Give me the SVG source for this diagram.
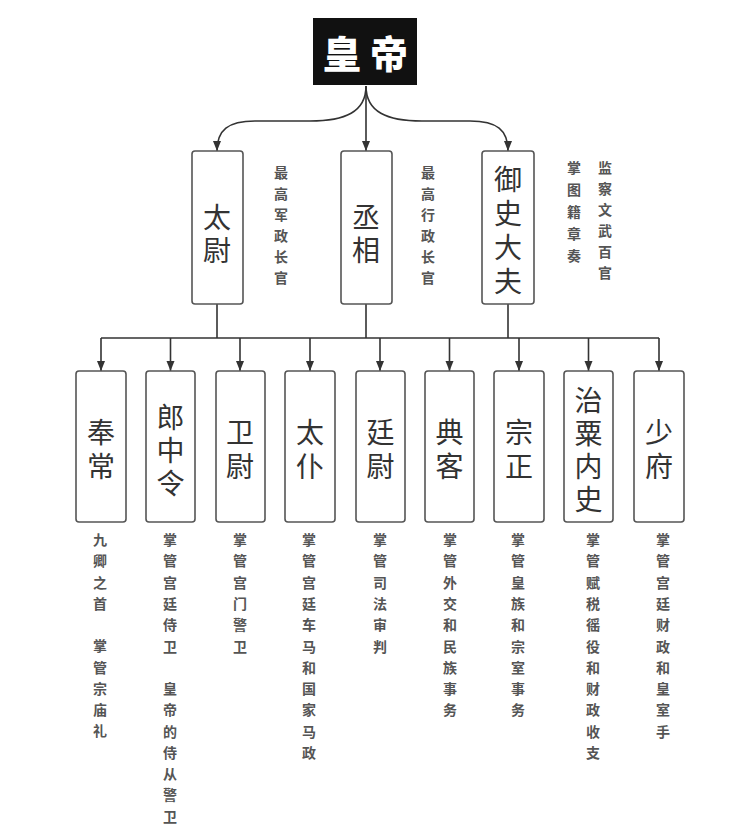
<svg xmlns="http://www.w3.org/2000/svg" width="735" height="829" viewBox="0 0 735 829">
<defs>
<marker id="ah" markerUnits="userSpaceOnUse" markerWidth="10" markerHeight="10" viewBox="0 0 10 10" refX="10" refY="5" orient="auto">
<path d="M0,1 L10,5 L0,9 Z" fill="#333"/>
</marker>
<style>
.box{fill:#fff;stroke:#555;stroke-width:1.6}
.ln{fill:none;stroke:#333;stroke-width:1.6}
.big{font-family:"Noto Sans CJK SC","Noto Sans CJK TC",sans-serif;font-size:28px;fill:#333;text-anchor:middle;writing-mode:vertical-rl}
.sm{font-family:"Noto Sans CJK SC","Noto Sans CJK TC",serif;font-size:14px;font-weight:bold;fill:#555;text-anchor:middle}
.emp{font-family:"Noto Sans CJK SC","Noto Sans CJK TC",sans-serif;font-size:38px;font-weight:900;fill:#fff;text-anchor:middle}
</style>
</defs>
<rect width="735" height="829" fill="#fff"/>

<g id="connectors">
<path class="ln" d="M366,86 L366,151" marker-end="url(#ah)"/>
<path class="ln" d="M366,86 C366,112 345,121 310,121 L255,121 C228,121 217,130 217,151" marker-end="url(#ah)"/>
<path class="ln" d="M366,86 C366,112 387,121 422,121 L470,121 C497,121 508,130 508,151" marker-end="url(#ah)"/>
<path class="ln" d="M217,304 L217,338 M366,304 L366,338 M508,304 L508,338 M101,338 L659,338"/>
<path class="ln" d="M101,338 L101,371" marker-end="url(#ah)"/>
<path class="ln" d="M170.5,338 L170.5,371" marker-end="url(#ah)"/>
<path class="ln" d="M240,338 L240,371" marker-end="url(#ah)"/>
<path class="ln" d="M310,338 L310,371" marker-end="url(#ah)"/>
<path class="ln" d="M380,338 L380,371" marker-end="url(#ah)"/>
<path class="ln" d="M449.5,338 L449.5,371" marker-end="url(#ah)"/>
<path class="ln" d="M519,338 L519,371" marker-end="url(#ah)"/>
<path class="ln" d="M588.5,338 L588.5,371" marker-end="url(#ah)"/>
<path class="ln" d="M659,338 L659,371" marker-end="url(#ah)"/>
</g>

<g id="huangdi">
<rect x="313" y="18" width="104" height="67" fill="#111"/>
<text class="emp"><tspan x="342" y="68">皇</tspan><tspan x="389" y="68">帝</tspan></text>
</g>

<g id="taiwei">
<rect class="box" x="192" y="151" width="51" height="153" rx="3"/>
<text class="big" x="217" y="236" letter-spacing="5">太尉</text>
</g>
<g id="taiwei-note">
<text class="sm"><tspan x="281" y="178">最</tspan><tspan x="281" y="199">高</tspan><tspan x="281" y="220">军</tspan><tspan x="281" y="241">政</tspan><tspan x="281" y="262">长</tspan><tspan x="281" y="283">官</tspan></text>
</g>

<g id="chengxiang">
<rect class="box" x="341" y="151" width="51" height="153" rx="3"/>
<text class="big" x="366" y="236" letter-spacing="5">丞相</text>
</g>
<g id="chengxiang-note">
<text class="sm"><tspan x="428" y="178">最</tspan><tspan x="428" y="199">高</tspan><tspan x="428" y="220">行</tspan><tspan x="428" y="241">政</tspan><tspan x="428" y="262">长</tspan><tspan x="428" y="283">官</tspan></text>
</g>

<g id="yushidafu">
<rect class="box" x="482" y="151" width="52" height="153" rx="3"/>
<text class="big" x="508" y="233" letter-spacing="6">御史大夫</text>
</g>
<g id="yushidafu-note">
<text class="sm"><tspan x="574" y="173">掌</tspan><tspan x="574" y="195">图</tspan><tspan x="574" y="217">籍</tspan><tspan x="574" y="239">章</tspan><tspan x="574" y="261">奏</tspan></text>
<text class="sm"><tspan x="605" y="173">监</tspan><tspan x="605" y="194">察</tspan><tspan x="605" y="215">文</tspan><tspan x="605" y="236">武</tspan><tspan x="605" y="257">百</tspan><tspan x="605" y="278">官</tspan></text>
</g>

<g id="fengchang">
<rect class="box" x="76" y="371" width="50" height="151" rx="3"/>
<text class="big" x="101" y="452" letter-spacing="6">奉常</text>
<text class="sm"><tspan x="100" y="545">九</tspan><tspan x="100" y="566">卿</tspan><tspan x="100" y="588">之</tspan><tspan x="100" y="609">首</tspan><tspan x="100" y="651">掌</tspan><tspan x="100" y="673">管</tspan><tspan x="100" y="694">宗</tspan><tspan x="100" y="715">庙</tspan><tspan x="100" y="736">礼</tspan></text>
</g>

<g id="langzhongling">
<rect class="box" x="146" y="371" width="49" height="151" rx="3"/>
<text class="big" x="170.5" y="452.5" letter-spacing="5">郎中令</text>
<text class="sm"><tspan x="170" y="545">掌</tspan><tspan x="170" y="566">管</tspan><tspan x="170" y="588">宫</tspan><tspan x="170" y="609">廷</tspan><tspan x="170" y="630">侍</tspan><tspan x="170" y="652">卫</tspan><tspan x="170" y="694">皇</tspan><tspan x="170" y="715">帝</tspan><tspan x="170" y="737">的</tspan><tspan x="170" y="758">侍</tspan><tspan x="170" y="779">从</tspan><tspan x="170" y="800">警</tspan><tspan x="170" y="822">卫</tspan></text>
</g>

<g id="weiwei">
<rect class="box" x="216" y="371" width="49" height="151" rx="3"/>
<text class="big" x="240" y="452" letter-spacing="6">卫尉</text>
<text class="sm"><tspan x="240" y="545">掌</tspan><tspan x="240" y="566">管</tspan><tspan x="240" y="588">宫</tspan><tspan x="240" y="609">门</tspan><tspan x="240" y="630">警</tspan><tspan x="240" y="652">卫</tspan></text>
</g>

<g id="taipu">
<rect class="box" x="285" y="371" width="50" height="151" rx="3"/>
<text class="big" x="310" y="452" letter-spacing="6">太仆</text>
<text class="sm"><tspan x="309" y="545">掌</tspan><tspan x="309" y="566">管</tspan><tspan x="309" y="588">宫</tspan><tspan x="309" y="609">廷</tspan><tspan x="309" y="630">车</tspan><tspan x="309" y="652">马</tspan><tspan x="309" y="673">和</tspan><tspan x="309" y="694">国</tspan><tspan x="309" y="715">家</tspan><tspan x="309" y="737">马</tspan><tspan x="309" y="758">政</tspan></text>
</g>

<g id="tingwei">
<rect class="box" x="356" y="371" width="49" height="151" rx="3"/>
<text class="big" x="380.5" y="452" letter-spacing="6">廷尉</text>
<text class="sm"><tspan x="380" y="545">掌</tspan><tspan x="380" y="566">管</tspan><tspan x="380" y="588">司</tspan><tspan x="380" y="609">法</tspan><tspan x="380" y="630">审</tspan><tspan x="380" y="652">判</tspan></text>
</g>

<g id="dianke">
<rect class="box" x="425" y="371" width="49" height="151" rx="3"/>
<text class="big" x="449.5" y="452" letter-spacing="6">典客</text>
<text class="sm"><tspan x="450" y="545">掌</tspan><tspan x="450" y="566">管</tspan><tspan x="450" y="588">外</tspan><tspan x="450" y="609">交</tspan><tspan x="450" y="630">和</tspan><tspan x="450" y="652">民</tspan><tspan x="450" y="673">族</tspan><tspan x="450" y="694">事</tspan><tspan x="450" y="715">务</tspan></text>
</g>

<g id="zongzheng">
<rect class="box" x="494" y="371" width="50" height="151" rx="3"/>
<text class="big" x="519" y="452" letter-spacing="6">宗正</text>
<text class="sm"><tspan x="518" y="545">掌</tspan><tspan x="518" y="566">管</tspan><tspan x="518" y="588">皇</tspan><tspan x="518" y="609">族</tspan><tspan x="518" y="630">和</tspan><tspan x="518" y="652">宗</tspan><tspan x="518" y="673">室</tspan><tspan x="518" y="694">事</tspan><tspan x="518" y="715">务</tspan></text>
</g>

<g id="zhisuneishi">
<rect class="box" x="564" y="371" width="49" height="151" rx="3"/>
<text class="big" x="588.5" y="452.5" letter-spacing="5">治粟内史</text>
<text class="sm"><tspan x="593" y="545">掌</tspan><tspan x="593" y="566">管</tspan><tspan x="593" y="588">赋</tspan><tspan x="593" y="609">税</tspan><tspan x="593" y="630">徭</tspan><tspan x="593" y="652">役</tspan><tspan x="593" y="673">和</tspan><tspan x="593" y="694">财</tspan><tspan x="593" y="715">政</tspan><tspan x="593" y="737">收</tspan><tspan x="593" y="758">支</tspan></text>
</g>

<g id="shaofu">
<rect class="box" x="634" y="371" width="50" height="151" rx="3"/>
<text class="big" x="659" y="452" letter-spacing="6">少府</text>
<text class="sm"><tspan x="663" y="545">掌</tspan><tspan x="663" y="566">管</tspan><tspan x="663" y="588">宫</tspan><tspan x="663" y="609">廷</tspan><tspan x="663" y="630">财</tspan><tspan x="663" y="652">政</tspan><tspan x="663" y="673">和</tspan><tspan x="663" y="694">皇</tspan><tspan x="663" y="715">室</tspan><tspan x="663" y="737">手</tspan></text>
</g>
</svg>
